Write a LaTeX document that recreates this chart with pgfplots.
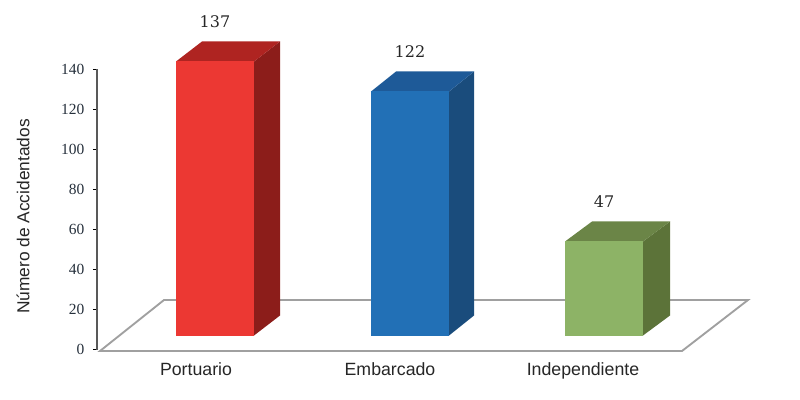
\documentclass[border=0pt]{standalone}
\usepackage{fontspec}
\setmainfont{Liberation Serif}
\setsansfont{Liberation Sans}
\newfontfamily\numfont{DejaVu Serif}
\usepackage{pgfplots}
\pgfplotsset{compat=1.18}
\definecolor{redF}{HTML}{EC3833}
\definecolor{redS}{HTML}{8C1D1A}
\definecolor{redT}{HTML}{AF2421}
\definecolor{bluF}{HTML}{2270B6}
\definecolor{bluS}{HTML}{1A4C7C}
\definecolor{bluT}{HTML}{1E5A98}
\definecolor{greF}{HTML}{8DB366}
\definecolor{greS}{HTML}{5C7339}
\definecolor{greT}{HTML}{6B8547}
\definecolor{floorc}{HTML}{A0A0A0}
\definecolor{ticktxt}{HTML}{26303C}
\begin{document}
\begin{tikzpicture}
\useasboundingbox (-72.75pt,-37.875pt) rectangle ++(600pt,300pt);
\begin{axis}[
  scale only axis,
  x=0.75pt, y=1.5pt,
  xmin=97, xmax=748, ymin=0, ymax=140,
  clip=false,
  axis y line=left, axis x line=bottom,
  x axis line style={draw=none,-},
  y axis line style={draw=black!65,line width=1.5pt,-},
  ytick={0,20,40,60,80,100,120,140},
  xtick={196,390,583},
  xticklabels={Portuario,Embarcado,Independiente},
  x tick style={draw=none},
  y tick style={draw=black,line width=1pt},
  major tick length=3pt,
  tick align=outside,
  /pgf/number format/assume math mode=true,
  yticklabel style={font=\fontsize{11.6}{12}\selectfont\rmfamily,text=ticktxt,xshift=-3pt},
  xticklabel style={font=\fontsize{13.3}{14}\selectfont\sffamily,text=black!85,yshift=-3pt},
  ylabel={Número de Accidentados},
  every axis y label/.style={at={(axis cs:23,66.5)},rotate=90,anchor=center,font=\fontsize{13}{15}\selectfont\sffamily,text=black!85},
  barstyle/.style={ybar,bar width=58.5pt,bar shift=0pt,draw=none,shift={(0pt,10.5pt)}},
  facestyle/.style={draw=none,shift={(0pt,10.5pt)},forget plot},
  every node near coord/.style={font=\fontsize{12}{14}\selectfont\numfont,text=black!85,inner sep=0pt,anchor=south,yshift=25.2pt},
]
% floor
\addplot[draw=floorc,line width=1.4pt,fill=white,forget plot] coordinates {(100,-0.75)(164,24.75)(748,24.75)(682,-0.75)} --cycle;
% Portuario 137
\addplot[facestyle,fill=redS] coordinates {(254,0)(254,137)(280,147)(280,10)} --cycle;
\addplot[facestyle,fill=redT] coordinates {(176,137)(254,137)(280,147)(202,147)} --cycle;
\addplot[barstyle,fill=redF,nodes near coords] coordinates {(215,137)};
% Embarcado 122
\addplot[facestyle,fill=bluS] coordinates {(449,0)(449,122)(474,132)(474,10)} --cycle;
\addplot[facestyle,fill=bluT] coordinates {(371,122)(449,122)(474,132)(396,132)} --cycle;
\addplot[barstyle,fill=bluF,nodes near coords] coordinates {(410,122)};
% Independiente 47
\addplot[facestyle,fill=greS] coordinates {(643,0)(643,47)(670,57)(670,10)} --cycle;
\addplot[facestyle,fill=greT] coordinates {(565,47)(643,47)(670,57)(592,57)} --cycle;
\addplot[barstyle,fill=greF,nodes near coords] coordinates {(604,47)};
\end{axis}
\end{tikzpicture}
\end{document}
